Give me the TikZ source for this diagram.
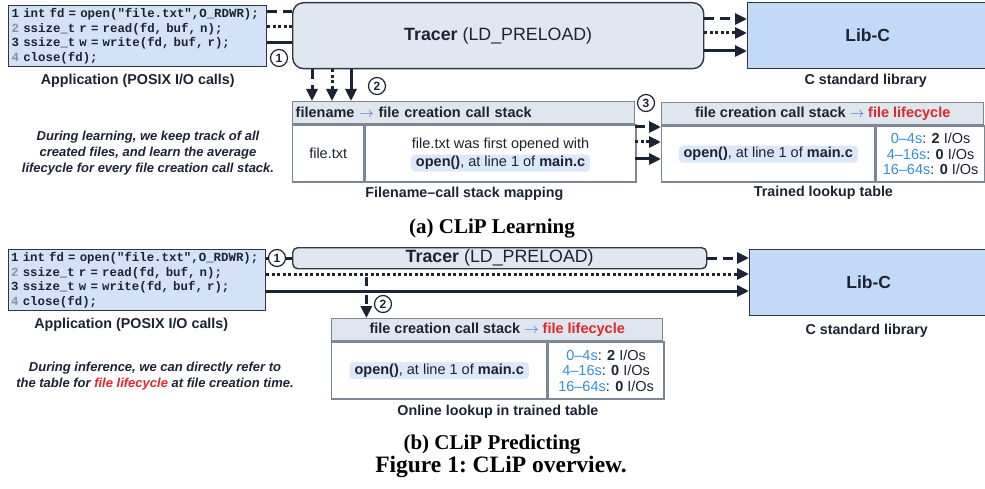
\documentclass[tikz,border=0pt]{standalone}
\usepackage{fontspec}
\setmainfont{Liberation Sans}
\newfontfamily\codefont[WordSpace={1,0,0}]{Liberation Mono}
\newfontfamily\capfont{Liberation Serif}
\usepackage{tikz}
\usetikzlibrary{positioning,
                calc,
                arrows.meta}
\definecolor{inkdark}{HTML}{1C2333}
\definecolor{boxedge}{HTML}{2E3646}
\definecolor{codeblue}{HTML}{D3E2F7}
\definecolor{libblue}{HTML}{C3D9F8}
\definecolor{tracergray}{HTML}{E1E7F0}
\definecolor{tabedge}{HTML}{7C8695}
\definecolor{headgray}{HTML}{E0E6EE}
\definecolor{hiblue}{HTML}{DCE8F9}
\definecolor{lifered}{HTML}{E3262C}
\definecolor{spanblue}{HTML}{3590D0}
\definecolor{arrowblue}{HTML}{3C6FDB}
\definecolor{numgray}{HTML}{8C919B}

\begin{document}
\begin{tikzpicture}[x=1pt,y=-1pt]

\tikzset{
codebox/.style={
draw=boxedge, line width=1.4pt, fill=codeblue,
anchor=north west, align=left, text width=252pt,
inner xsep=3pt, inner ysep=0pt, minimum height=61pt,
text=inkdark, font=\codefont\bfseries\fontsize{12.4}{14.7}\selectfont
},
tracerbox/.style={
draw=boxedge, line width=1.4pt, fill=tracergray,
anchor=north west, inner sep=0pt,
text=inkdark, font=\fontsize{17.8}{20}\selectfont
},
libbox/.style={
draw=boxedge, line width=1.4pt, fill=libblue,
anchor=north west, inner sep=0pt,
text=inkdark, font=\bfseries\fontsize{17.5}{20}\selectfont
},
tabhead/.style={
draw=tabedge, line width=1.4pt, fill=headgray,
anchor=north west, minimum height=22pt, inner sep=0pt,
text=inkdark, font=\bfseries\fontsize{14.5}{17}\selectfont
},
tabcell/.style={
draw=tabedge, line width=1.4pt, fill=white,
anchor=north west, inner sep=0pt, align=center,
text=inkdark, font=\fontsize{14.5}{15.5}\selectfont
},
hilite/.style={
fill=hiblue, rounded corners=4pt, minimum height=17pt,
inner xsep=5pt, inner ysep=0pt,
text=inkdark, font=\fontsize{14.5}{17}\selectfont
},
bodytext/.style={
text=inkdark, inner sep=0pt, font=\fontsize{14.5}{17}\selectfont
},
sublabel/.style={
text=inkdark, inner sep=0pt, anchor=base,
font=\bfseries\fontsize{14.3}{17}\selectfont
},
notetext/.style={
text=inkdark, align=center,
font=\bfseries\itshape\fontsize{13}{16}\selectfont
},
figcap/.style={
text=black, font=\capfont\bfseries\frenchspacing\fontsize{21}{24}\selectfont
},
stepnum/.style={
circle, draw=inkdark, line width=1.2pt, fill=white,
minimum size=17pt, inner sep=0pt,
text=inkdark, font=\bfseries\fontsize{12}{12}\selectfont
},
link/.style={draw=inkdark, line width=3pt},
linkarrow/.style={link, -{Triangle[length=12pt,width=11pt]}},
dashlink/.style={dash pattern=on 10pt off 6pt},
dotlink/.style={dash pattern=on 3pt off 2.5pt}
}

\useasboundingbox (0,0) rectangle (985,489);

%--------------------------------------------------
% (a) LEARNING
%--------------------------------------------------

\node[codebox] (codeA) at (8,5)
{1 int fd = open("file.txt",O\_RDWR);\\
\textcolor{numgray}{2} ssize\_t r = read(fd, buf, n);\\
3 ssize\_t w = write(fd, buf, r);\\
\textcolor{numgray}{4} close(fd);};

\node[sublabel] (appA) at ($(codeA.south)+(0,17)$)
{Application (POSIX I/O calls)};

\node[tracerbox, rounded corners=11pt,
      minimum width=411pt, minimum height=66pt] (tracerA) at (292,2)
{\textbf{Tracer} (LD\_PRELOAD)};

\node[libbox, minimum width=240pt, minimum height=66pt] (libA) at (747,2)
{Lib-C};

\node[sublabel] (libALabel) at ($(libA.south)+(-2,15)$)
{C standard library};

% mapping table
\node[tabhead, text width=336pt, inner xsep=3pt, align=left] (mapHead) at (292,101)
{filename {\color{arrowblue}$\rightarrow$} file creation call stack};

\node[tabcell, minimum width=71pt, minimum height=57pt] (mapName)
at (mapHead.south west) {file.txt};

\node[tabcell, minimum width=271pt, minimum height=57pt] (mapStack)
at (mapName.north east) {};

\node[bodytext] (mapFirst) at ($(mapStack.center)+(0,-8.5)$)
{file.txt was first opened with};

\node[hilite] (mapOpen) at ($(mapStack.center)+(0,9.5)$)
{\textbf{open()}, at line 1 of \textbf{main.c}};

\node[sublabel] (mapLabel) at ($(mapName.south west)!0.5!(mapStack.south east)+(0,15)$)
{Filename--call stack mapping};

% trained table
\node[tabhead, minimum width=322pt] (trainHead) at (661,102)
{file creation call stack {\color{arrowblue}$\rightarrow$} \textcolor{lifered}{file lifecycle}};

\node[tabcell, minimum width=213pt, minimum height=56pt] (trainStack)
at (trainHead.south west) {};

\node[hilite] (trainOpen) at (trainStack.center)
{\textbf{open()}, at line 1 of \textbf{main.c}};

\node[tabcell, minimum width=109pt, minimum height=56pt] (trainLife)
at (trainStack.north east)
{\textcolor{spanblue}{0--4s}: \textbf{2} I/Os\\
\textcolor{spanblue}{4--16s}: \textbf{0} I/Os\\
\textcolor{spanblue}{16--64s}: \textbf{0} I/Os};

\node[sublabel] (trainLabel) at ($(trainStack.south west)!0.5!(trainLife.south east)+(0,14)$)
{Trained lookup table};

\node[notetext] (noteA) at (148,153)
{During learning, we keep track of all\\
created files, and learn the average\\
lifecycle for every file creation call stack.};

% connectors
\coordinate (cA1) at ($(codeA.north east)+(0,7)$);
\coordinate (cA2) at ($(codeA.north east)+(0,22)$);
\coordinate (cA3) at ($(codeA.north east)+(0,38)$);
\draw[link, dashlink] (cA1) -- (cA1 -| tracerA.west);
\draw[link, dotlink] (cA2) -- (cA2 -| tracerA.west);
\draw[link] (cA3) -- (cA3 -| tracerA.west);

\coordinate (tA1) at ($(tracerA.north east)+(0,17)$);
\coordinate (tA2) at ($(tracerA.north east)+(0,31)$);
\coordinate (tA3) at ($(tracerA.north east)+(0,49)$);
\draw[linkarrow, dashlink] (tA1) -- (tA1 -| libA.west);
\draw[linkarrow, dotlink] (tA2) -- (tA2 -| libA.west);
\draw[linkarrow] (tA3) -- (tA3 -| libA.west);

\coordinate (dA1) at ($(tracerA.south west)+(20,0)$);
\coordinate (dA2) at ($(tracerA.south west)+(40,0)$);
\coordinate (dA3) at ($(tracerA.south west)+(59,0)$);
\draw[linkarrow, dashlink] (dA1) -- (dA1 |- mapHead.north);
\draw[linkarrow, dotlink] (dA2) -- (dA2 |- mapHead.north);
\draw[linkarrow] (dA3) -- (dA3 |- mapHead.north);

\coordinate (mA1) at ($(mapHead.north east)+(0,26)$);
\coordinate (mA2) at ($(mapHead.north east)+(0,41)$);
\coordinate (mA3) at ($(mapHead.north east)+(0,58)$);
\draw[linkarrow, dashlink] (mA1) -- (mA1 -| trainHead.west);
\draw[linkarrow, dotlink] (mA2) -- (mA2 -| trainHead.west);
\draw[linkarrow] (mA3) -- (mA3 -| trainHead.west);

\node[stepnum] (numA1) at (279,58) {1};
\node[stepnum] (numA2) at (377,86) {2};
\node[stepnum] (numA3) at (646,103) {3};

\node[figcap] (capA) at (492,229) {(a) CLiP Learning};

%--------------------------------------------------
% (b) PREDICTING
%--------------------------------------------------

\node[codebox, inner xsep=2.5pt] (codeB) at (8,249)
{1 int fd = open("file.txt",O\_RDWR);\\
\textcolor{numgray}{2} ssize\_t r = read(fd, buf, n);\\
3 ssize\_t w = write(fd, buf, r);\\
\textcolor{numgray}{4} close(fd);};

\node[sublabel] (appB) at ($(codeB.south)+(-6,17)$)
{Application (POSIX I/O calls)};

\node[tracerbox, rounded corners=5pt,
      minimum width=414pt, minimum height=21pt] (tracerB) at (292,247)
{\textbf{Tracer} (LD\_PRELOAD)};

\node[libbox, minimum width=238pt, minimum height=66pt] (libB) at (749,249)
{Lib-C};

\node[sublabel] (libBLabel) at ($(libB.south)+(-2,18)$)
{C standard library};

% online lookup table
\node[tabhead, minimum width=331pt] (lookHead) at (331,318)
{file creation call stack {\color{arrowblue}$\rightarrow$} \textcolor{lifered}{file lifecycle}};

\node[tabcell, minimum width=215pt, minimum height=57pt] (lookStack)
at (lookHead.south west) {};

\node[hilite] (lookOpen) at (lookStack.center)
{\textbf{open()}, at line 1 of \textbf{main.c}};

\node[tabcell, minimum width=116pt, minimum height=57pt] (lookLife)
at (lookStack.north east)
{\textcolor{spanblue}{0--4s}: \textbf{2} I/Os\\
\textcolor{spanblue}{4--16s}: \textbf{0} I/Os\\
\textcolor{spanblue}{16--64s}: \textbf{0} I/Os};

\node[sublabel] (lookLabel) at ($(lookStack.south west)!0.5!(lookLife.south east)+(0,16)$)
{Online lookup in trained table};

\node[notetext] (noteB) at (155,376)
{During inference, we can directly refer to\\
the table for \textcolor{lifered}{file lifecycle} at file creation time.};

% connectors
\coordinate (cB1) at ($(codeB.north east)+(0,9)$);
\coordinate (cB2) at ($(codeB.north east)+(0,25)$);
\coordinate (cB3) at ($(codeB.north east)+(0,42)$);
\draw[link, dashlink] (cB1) -- (cB1 -| tracerB.west);
\coordinate (tB1) at (cB1 -| tracerB.east);
\draw[linkarrow, dashlink] (tB1) -- (tB1 -| libB.west);
\draw[linkarrow, dotlink] (cB2) -- (cB2 -| libB.west);
\draw[linkarrow] (cB3) -- (cB3 -| libB.west);

\coordinate (tapB) at ($(cB2)+(100,3)$);
\draw[linkarrow, dash pattern=on 9pt off 9pt] (tapB) -- (tapB |- lookHead.north);

\node[stepnum] (numB1) at (277,258) {1};
\node[stepnum] (numB2) at (383,304) {2};

\node[figcap] (capB) at (492,445) {(b) CLiP Predicting};
\node[figcap, font=\capfont\bfseries\frenchspacing\fontsize{23.5}{26}\selectfont] (figCap) at (501,467)
{Figure 1: CLiP overview.};

\end{tikzpicture}
\end{document}
